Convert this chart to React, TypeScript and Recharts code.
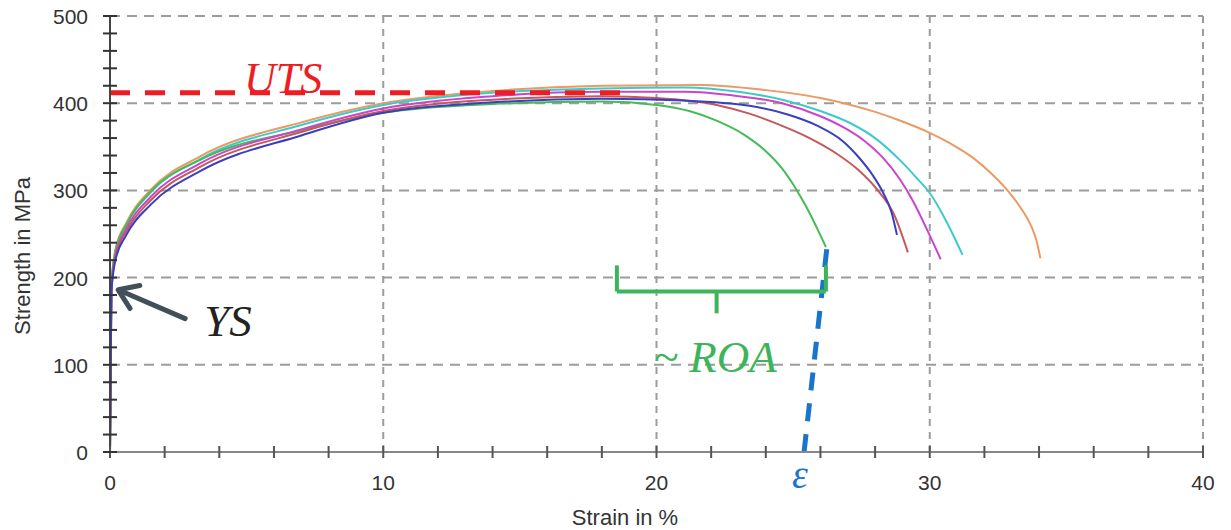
import React from 'react'
import { LineChart, Line, XAxis, YAxis, ReferenceLine, ReferenceDot } from 'recharts'

// axis ticks (minor every 2 % / 20 MPa, labels on the majors)
const xTicks = [0, 2, 4, 6, 8, 10, 12, 14, 16, 18, 20, 22, 24, 26, 28, 30, 32, 34, 36, 38, 40]
const yTicks = [0, 20, 40, 60, 80, 100, 120, 140, 160, 180, 200, 220, 240, 260, 280, 300, 320, 340, 360, 380, 400, 420, 440, 460, 480, 500]
const gridX = [10, 20, 30, 40]
const gridY = [100, 200, 300, 400, 500]

// stress-strain curves, one per specimen
const orangeStrain = [0, 0.05, 0.2, 0.6, 1.5, 3.3, 7, 10, 14, 18, 21.6, 24, 26, 28, 29, 30, 30.8, 31.6, 32.3, 32.9, 33.35, 33.7, 33.9, 34.05]
const orangeStress = [0, 190, 232, 263, 301, 339, 378, 400, 414, 420, 421, 415, 406, 390, 379, 366, 353, 337, 318, 298, 279, 260, 243, 222]

const cyanStrain = [0, 0.05, 0.2, 0.6, 1.5, 3.3, 7, 10, 14, 18, 21, 23, 24.6, 26, 27.1, 28, 28.9, 29.5, 30, 30.6, 31.2]
const cyanStress = [0, 188, 229, 260, 298, 336, 375, 398, 412, 417, 418, 413, 404, 391, 377, 360, 335, 315, 297, 265, 226]

const greenStrain = [0, 0.05, 0.2, 0.6, 1.5, 3.3, 7, 10, 14, 18, 20, 21.2, 22.2, 23.2, 24, 24.6, 25.1, 25.5, 25.9, 26.2]
const greenStress = [0, 190, 231, 261, 299, 335, 369, 389, 399, 402, 398, 391, 380, 364, 345, 325, 302, 280, 255, 235]

const magentaStrain = [0, 0.05, 0.2, 0.6, 1.5, 3.3, 7, 10, 14, 18, 21, 23, 24.6, 26, 26.8, 27.6, 28.3, 28.9, 29.4, 29.9, 30.4]
const magentaStress = [0, 185, 226, 256, 293, 331, 370, 394, 408, 413, 413, 408, 400, 385, 373, 357, 337, 313, 287, 255, 221]

const redStrain = [0, 0.05, 0.2, 0.6, 1.5, 3.3, 7, 10, 14, 18, 20, 22.2, 23.4, 24.6, 25.6, 26.5, 27.4, 28.1, 28.7, 29.2]
const redStress = [0, 185, 224, 253, 289, 327, 367, 391, 404, 408, 406, 398, 388, 374, 360, 344, 323, 300, 272, 229]

const blueStrain = [0, 0.05, 0.2, 0.6, 1.5, 3.3, 7, 10, 14, 18, 21, 23.4, 24.8, 25.9, 26.8, 27.4, 27.9, 28.3, 28.6, 28.8]
const blueStress = [0, 183, 220, 249, 284, 322, 363, 389, 401, 405, 403, 397, 387, 374, 357, 338, 318, 297, 275, 249]

const toPoints = (xs: number[], ys: number[]) => xs.map((x, i) => ({ x, y: ys[i] }))

const specimens = [
  { name: 'orange', color: '#ea9a62', data: toPoints(orangeStrain, orangeStress) },
  { name: 'cyan', color: '#3fcaca', data: toPoints(cyanStrain, cyanStress) },
  { name: 'green', color: '#45bb55', data: toPoints(greenStrain, greenStress) },
  { name: 'magenta', color: '#cc44cc', data: toPoints(magentaStrain, magentaStress) },
  { name: 'red', color: '#c4585a', data: toPoints(redStrain, redStress) },
  { name: 'blue', color: '#3a3fc0', data: toPoints(blueStrain, blueStress) },
]

// annotations
const utsLevel = 412
const utsEnd = 18.8
const epsLine = [{ x: 25.4, y: 0 }, { x: 26.25, y: 238 }]
const bracketLeft = 18.55
const bracketRight = 26.2
const bracketMid = 22.2
const bracketY = 184
const bracketTop = 214
const bracketTip = 159
const ysArrow = [{ x: 2.75, y: 153 }, { x: 0.3, y: 186 }]

const sans = '"Liberation Sans", Arial, sans-serif'
const serif = '"Liberation Serif", "Times New Roman", serif'

const XTick = (props: any) => {
  const { x, y, payload } = props
  const v = payload.value
  return (
    <g>
      <line x1={x} x2={x} y1={y - 6} y2={y + 6} stroke="#555" strokeWidth={2} />
      {v % 10 === 0 && (
        <text x={x} y={y + 38} textAnchor="middle" fontFamily={sans} fontSize={21} fill="#333">
          {v}
        </text>
      )}
    </g>
  )
}

const YTick = (props: any) => {
  const { x, y, payload } = props
  const v = payload.value
  return (
    <g>
      <line x1={x - 7} x2={x + 7} y1={y} y2={y} stroke="#333" strokeWidth={2} />
      {v % 100 === 0 && (
        <text x={x - 22} y={y + 8} textAnchor="end" fontFamily={sans} fontSize={21} fill="#333">
          {v}
        </text>
      )}
    </g>
  )
}

const italic = (text: string, color: string, size: number, anchor = 'start') => (p: any) => (
  <text
    x={p.cx}
    y={p.cy}
    textAnchor={anchor}
    fontFamily={serif}
    fontStyle="italic"
    fontSize={size}
    fill={color}
  >
    {text}
  </text>
)

const arrowShape = (p: any) => {
  const { x1, y1, x2, y2 } = p
  const ang = Math.atan2(y1 - y2, x1 - x2)
  const len = 22
  const spread = 0.6
  const ax = x2 + len * Math.cos(ang + spread)
  const ay = y2 + len * Math.sin(ang + spread)
  const bx = x2 + len * Math.cos(ang - spread)
  const by = y2 + len * Math.sin(ang - spread)
  return (
    <g stroke="#415058" strokeWidth={5} strokeLinecap="round" fill="none">
      <line x1={x1} y1={y1} x2={x2 + 3 * Math.cos(ang)} y2={y2 + 3 * Math.sin(ang)} />
      <polyline points={`${ax},${ay} ${x2},${y2} ${bx},${by}`} strokeLinejoin="round" />
    </g>
  )
}

export default function App() {
  return (
    <div style={{ position: 'absolute', left: 0, top: 0, background: '#fff' }}>
      <LineChart width={1231} height={530} margin={{ top: 16, right: 28, bottom: 0, left: 0 }}>
        <XAxis
          dataKey="x"
          type="number"
          domain={[0, 40]}
          ticks={xTicks}
          interval={0}
          height={78}
          tickSize={0}
          tickMargin={0}
          tick={<XTick />}
          axisLine={{ stroke: '#888', strokeWidth: 2 }}
          allowDataOverflow
          label={{
            content: (p: any) => (
              <text
                x={625}
                y={p.viewBox.y + 73}
                textAnchor="middle"
                fontFamily={sans}
                fontSize={22}
                fill="#333"
              >
                Strain in %
              </text>
            ),
          }}
        />
        <YAxis
          type="number"
          domain={[0, 500]}
          ticks={yTicks}
          interval={0}
          width={110}
          tickSize={0}
          tickMargin={0}
          tick={<YTick />}
          axisLine={{ stroke: '#444', strokeWidth: 2 }}
          allowDataOverflow
          label={{
            content: () => {
              const cx = 30
              const cy = 256
              return (
                <text
                  x={cx}
                  y={cy}
                  transform={`rotate(-90 ${cx} ${cy})`}
                  textAnchor="middle"
                  fontFamily={sans}
                  fontSize={22}
                  fill="#333"
                >
                  Strength in MPa
                </text>
              )
            },
          }}
        />

        {gridY.map((v) => (
          <ReferenceLine key={'gy' + v} y={v} stroke="#9c9c9c" strokeWidth={2} strokeDasharray="10 7" />
        ))}
        {gridX.map((v) => (
          <ReferenceLine key={'gx' + v} x={v} stroke="#9c9c9c" strokeWidth={2} strokeDasharray="7 6" />
        ))}

        {specimens.map((s) => (
          <Line
            key={s.name}
            data={s.data}
            dataKey="y"
            type="monotone"
            stroke={s.color}
            strokeWidth={2}
            dot={false}
            isAnimationActive={false}
          />
        ))}

        <ReferenceLine
          segment={[{ x: 0, y: utsLevel }, { x: utsEnd, y: utsLevel }]}
          stroke="#ee1d23"
          strokeWidth={5}
          strokeDasharray="20 15"
        />
        <ReferenceLine segment={epsLine} stroke="#1b74cc" strokeWidth={5} strokeDasharray="18 13" />

        <ReferenceLine segment={[{ x: bracketLeft, y: bracketTop }, { x: bracketLeft, y: bracketY }]} stroke="#3cb55a" strokeWidth={4} />
        <ReferenceLine segment={[{ x: bracketLeft, y: bracketY }, { x: bracketRight, y: bracketY }]} stroke="#3cb55a" strokeWidth={4} />
        <ReferenceLine segment={[{ x: bracketRight, y: bracketY }, { x: bracketRight, y: bracketTop }]} stroke="#3cb55a" strokeWidth={4} />
        <ReferenceLine segment={[{ x: bracketMid, y: bracketY }, { x: bracketMid, y: bracketTip }]} stroke="#3cb55a" strokeWidth={4} />

        <ReferenceLine segment={ysArrow} shape={arrowShape} />

        <ReferenceDot x={4.9} y={utsLevel} r={0} ifOverflow="visible" shape={italic('UTS', '#ee1d23', 44)} />
        <ReferenceDot x={3.45} y={133} r={0} ifOverflow="visible" shape={italic('YS', '#222', 45)} />
        <ReferenceDot x={19.9} y={92} r={0} ifOverflow="visible" shape={italic('~ ROA', '#3cb55a', 45)} />
        <ReferenceDot x={25.25} y={-41} r={0} ifOverflow="visible" shape={italic('ε', '#1b74cc', 40, 'middle')} />
      </LineChart>
    </div>
  )
}
